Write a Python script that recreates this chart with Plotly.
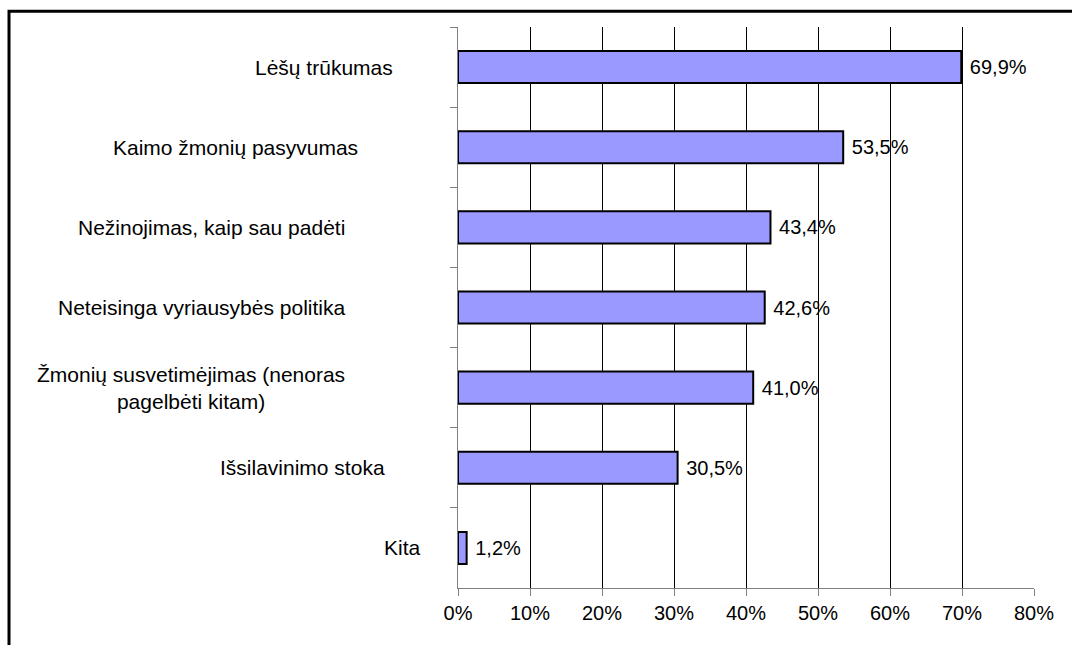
import plotly.graph_objects as go

# survey answers, top to bottom
categories = [
    "Lėšų trūkumas",
    "Kaimo žmonių pasyvumas",
    "Nežinojimas, kaip sau padėti",
    "Neteisinga vyriausybės politika",
    "Žmonių susvetimėjimas (nenoras<br>pagelbėti kitam)",
    "Išsilavinimo stoka",
    "Kita",
]
values = [69.9, 53.5, 43.4, 42.6, 41.0, 30.5, 1.2]

FONT = "Liberation Sans, Arial, sans-serif"
PLOT_L, PLOT_W = 458, 576
# right edge (px) of each category label, as placed in the original
label_right = [395, 360, 347, 347, 347, 387, 423]

fig = go.Figure()
fig.add_trace(go.Bar(
    y=categories, x=values, orientation="h",
    width=0.4,
    marker=dict(color="#9999FF", line=dict(color="black", width=2)),
    texttemplate="\u00a0%{x:.1f}%",
    textposition="outside",
    textfont=dict(family=FONT, size=20, color="black"),
    constraintext="none",
    cliponaxis=False,
    hoverinfo="skip",
))

# category labels as annotations so wrapped lines are centred
annotations = [
    dict(text=c, xref="paper", x=(r - PLOT_L) / PLOT_W, yref="y", y=c,
         xanchor="right", yanchor="middle", align="center", showarrow=False,
         font=dict(family=FONT, size=21, color="black"))
    for c, r in zip(categories, label_right)
]

fig.update_layout(
    width=1072, height=645,
    paper_bgcolor="white", plot_bgcolor="white",
    margin=dict(l=PLOT_L, r=1072 - PLOT_L - PLOT_W, t=27, b=57),
    showlegend=False,
    separators=",.",
    font=dict(family=FONT, size=20, color="black"),
    bargap=0.6,
    annotations=annotations,
    shapes=[dict(type="rect", xref="paper", yref="paper",
                 x0=-0.7795, x1=1.1, y0=-0.15, y1=1.028,
                 line=dict(color="black", width=3), layer="below")],
)
fig.update_xaxes(
    range=[0, 80], dtick=10, ticksuffix="%",
    showgrid=True, gridcolor="black", gridwidth=1,
    zeroline=False,
    showline=True, linecolor="#808080", linewidth=1,
    ticks="outside", ticklen=7, tickcolor="#808080",
    tickfont=dict(family=FONT, size=20, color="black"),
)
fig.update_yaxes(
    categoryorder="array", categoryarray=categories, autorange="reversed",
    showticklabels=False,
    showgrid=False, zeroline=False,
    showline=True, linecolor="#808080", linewidth=1,
    ticks="outside", ticklen=7, tickcolor="#808080", tickson="boundaries",
)

# drop the page's default body margin so the figure sits at the window corner
fig.write_html("out.html", config={"displayModeBar": False},
               post_script="document.body.style.margin='0';")
